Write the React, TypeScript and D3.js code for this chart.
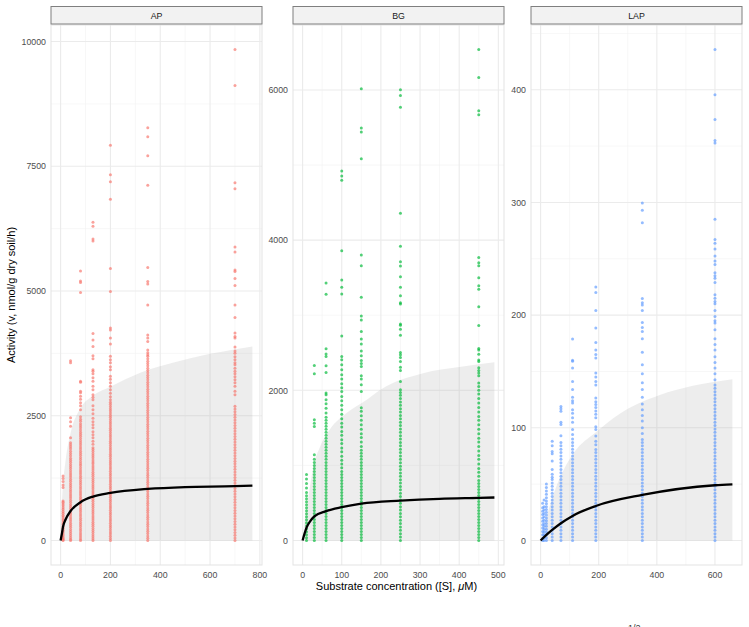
import React from 'react';
import * as d3 from 'd3';

const W = 749;
const H = 627;

// ---------- data ----------
const panelNames = ['AP', 'BG', 'LAP'];
const panelColors = ['#F8766D', '#00BA38', '#619CFF'];

const apConc = [10, 40, 80, 130, 200, 350, 700];
const apValues = [
  [0,12,35,60,95,130,170,205,245,280,320,355,395,430,470,505,545,580,620,655,695,730,765,790,1060,1110,1180,1240,1290],
  [0,25,60,100,140,180,220,265,305,345,390,430,470,515,555,600,640,680,720,765,805,850,890,930,975,1015,1060,1100,1140,1185,1225,1270,1310,1350,1395,1440,1480,1520,1570,1610,1650,1700,1745,1790,1840,1880,1920,1960,2060,2290,2380,2460,3560,3600],
  [0,30,70,110,150,195,235,280,320,360,405,445,490,530,575,615,655,700,740,780,825,865,910,950,990,1035,1075,1120,1160,1200,1245,1285,1330,1370,1410,1455,1500,1540,1580,1625,1665,1710,1750,1790,1835,1875,1920,1960,2000,2045,2090,2130,2170,2215,2260,2300,2340,2390,2430,2480,2620,2700,2760,2830,2890,2960,2990,3170,3190,4970,5170,5200,5400],
  [0,35,75,115,160,200,240,285,325,365,410,450,490,535,575,615,660,700,740,785,825,865,910,950,990,1035,1075,1115,1160,1200,1240,1285,1325,1365,1410,1450,1490,1535,1575,1615,1660,1700,1740,1785,1825,1860,1930,1990,2060,2120,2180,2260,2320,2380,2450,2540,2620,2700,2820,2870,2920,3020,3090,3190,3260,3340,3390,3420,3640,3700,3890,4020,4150,6000,6040,6300,6380],
  [0,40,85,130,170,215,260,300,345,390,430,475,520,560,605,650,690,735,780,820,865,910,950,995,1040,1080,1125,1170,1210,1255,1300,1340,1385,1430,1470,1515,1560,1600,1645,1690,1730,1775,1820,1860,1905,1950,1990,2035,2080,2120,2165,2210,2250,2295,2340,2380,2425,2470,2510,2555,2600,2640,2685,2730,2770,2820,2880,2950,3020,3090,3160,3230,3290,3420,3480,3560,3620,3690,3940,4060,4220,4260,4990,5450,6840,7190,7330,7920],
  [0,45,90,140,185,230,280,325,370,420,465,510,560,605,650,700,745,790,840,885,930,980,1025,1070,1120,1165,1210,1260,1305,1350,1400,1445,1490,1540,1585,1630,1680,1725,1770,1820,1865,1910,1960,2005,2050,2100,2145,2190,2240,2285,2330,2380,2425,2470,2520,2565,2610,2660,2705,2750,2800,2845,2890,2940,2985,3030,3080,3125,3170,3220,3265,3310,3360,3405,3450,3500,3545,3590,3640,3690,3720,3760,3820,3990,4060,4120,4720,5140,5190,5470,7120,7710,8090,8270],
  [0,50,105,160,215,270,325,380,435,490,545,600,655,710,765,820,875,930,985,1040,1095,1150,1205,1260,1315,1370,1425,1480,1535,1590,1645,1700,1755,1810,1865,1920,1975,2030,2085,2140,2195,2250,2305,2360,2415,2470,2525,2580,2635,2690,2920,2990,3090,3160,3220,3280,3340,3390,3450,3520,3560,3620,3680,3750,3800,3880,4060,4090,4160,4470,4720,5110,5250,5390,5420,5780,5880,7050,7170,9120,9840],
];
const apCurveS = [0, 5, 10, 20, 40, 80, 130, 200, 350, 500, 700, 770];
const apCurveV = [0, 130, 280, 420, 590, 767, 880, 953, 1033, 1070, 1087, 1100];
const apBandS = [0, 3, 8, 20, 40, 80, 130, 200, 320, 450, 600, 770];
const apBandV = [0, 500, 1000, 1600, 2150, 2650, 2900, 3080, 3360, 3560, 3740, 3890];
const apXTicks = [0, 200, 400, 600, 800];
const apYTicks = [0, 2500, 5000, 7500, 10000];

const bgConc = [10, 30, 60, 100, 150, 250, 450];
const bgValues = [
  [0,35,75,115,155,195,235,275,315,355,395,435,475,515,555,595,640,700,760,820,880],
  [0,40,80,120,160,200,240,280,320,360,400,440,480,520,560,600,640,680,720,760,800,840,880,920,960,1000,1040,1080,1143,1519,1560,1608,2220,2330],
  [0,40,80,120,160,200,240,280,320,360,400,440,480,520,560,600,640,680,720,760,800,840,880,920,960,1000,1040,1080,1120,1160,1200,1240,1280,1320,1360,1400,1440,1480,1520,1560,1600,1640,1697,1760,1820,1874,1940,1963,2237,2326,2450,2485,2552,3279,3429],
  [0,40,80,120,160,200,240,280,320,360,400,440,480,520,560,600,640,680,720,760,800,840,880,920,970,1020,1070,1120,1180,1230,1290,1340,1400,1450,1510,1560,1620,1680,1740,1800,1860,1918,1985,2033,2086,2149,2206,2273,2339,2406,2450,2725,3283,3372,3469,3858,4798,4855,4920],
  [0,40,80,120,160,200,240,280,320,360,400,440,480,520,560,600,640,680,720,760,800,840,880,920,960,1000,1040,1080,1120,1160,1200,1253,1310,1370,1420,1480,1540,1600,1660,1720,1768,1984,2073,2149,2193,2316,2356,2396,2459,2525,2618,2685,2782,2937,2990,3239,3659,3801,5086,5440,5493,6016],
  [0,45,90,135,180,225,270,315,360,405,450,495,540,585,630,675,720,765,810,855,900,945,990,1035,1080,1125,1170,1215,1260,1305,1350,1395,1440,1485,1530,1575,1620,1665,1710,1755,1800,1845,1890,1935,1970,2007,2117,2264,2308,2383,2436,2472,2502,2734,2813,2866,2884,3150,3167,3260,3372,3513,3655,3712,3920,4360,5772,5927,6003],
  [0,40,80,120,160,200,240,280,320,360,400,440,480,520,560,600,640,680,720,760,800,855,910,960,1020,1080,1130,1190,1250,1310,1360,1420,1480,1540,1600,1650,1710,1770,1830,1890,1950,2000,2050,2096,2193,2230,2264,2299,2383,2405,2481,2538,2556,2862,3114,3345,3393,3499,3659,3700,3770,5671,5724,6167,6539],
];
const bgCurveS = [0, 5, 10, 20, 30, 60, 100, 150, 250, 350, 450, 490];
const bgCurveV = [0, 90, 170, 260, 320, 390, 443, 490, 530, 555, 567, 572];
const bgBandS = [0, 5, 10, 15, 28, 45, 70, 113, 164, 198, 308, 400, 490];
const bgBandV = [0, 250, 430, 590, 990, 1250, 1480, 1700, 1875, 2005, 2228, 2310, 2375];
const bgXTicks = [0, 100, 200, 300, 400, 500];
const bgYTicks = [0, 2000, 4000, 6000];

const lapConc = [7, 12, 20, 40, 70, 110, 190, 350, 600];
const lapValues = [
  [0,2,5,8,11,14,17,20,23,26,29,33],
  [0,2.5,5,7.5,10,12.5,15,18,21,24,27,30,36],
  [0,2.5,5,7.5,10,12.5,15,17.5,20,22.5,25,27.5,30,32.5,35,38,41,44,47,50],
  [0,3,6,9,12,15,18,21,24,27,30,33,36,39,42,45,48,51,54,56,58.7,63,70.5,77,79,84,88],
  [0,3,6,9,12,15,18,21,24,27,30,33,36,39,42,45,48,51,54,57,60,63,66,69,72,75,78,81,84,87,93,103,105,114.7,117,119],
  [0,3,6,9,12,15,18,21,24,27,30,33,36,39,42,45,48,51,54,57,60,63,66,69,72,75,78,81,84,87,90,94,98.5,105,109,113,116,122,124,127,134,141,153,159,160,178.8],
  [0,3,6,9,12,15,18,21,24,27,30,33,36,39,42,45,48,51,54,57,60,63,66,69,72,75,78,80.8,85,88,92.6,98.5,101,109,112,115,118,120.6,123,126.5,138,141,145,148.7,162,165,169,175.8,188.5,204,220,225],
  [0,3,6,9,12,15,18,21,24,27,30,33,36,39,42,45,48,51,54,57,60,63,66,69,72,75,78,81,84,87,89.6,95,100,106,111,116,121,127,134,140,148,156,167,179,185.5,189,193.5,204,209,211,214.7,282,293,299.6],
  [0,3,6,9,12,15,18,21,24,27,30,33,36,39,42,45,48,51,54,57,60,63,66,69,72,75,78,81,84,87,90,93,96,99,102,105,108,111,114,117,120,123,126,129,132,135,138,142.7,148,153,158,163,169,174,179,187,192.9,195,198.8,204,210,212,215,218,228.9,232.7,235,237.7,245,248,252.5,258.7,263.7,267,285,352.7,355,373.7,395.6,435.7],
];
const lapCurveS = [0, 20, 40, 70, 110, 190, 350, 600, 660];
const lapCurveV = [0, 5, 9.4, 15.3, 21.8, 30.6, 40.4, 49, 49.8];
const lapBandS = [0, 10, 25, 50, 80, 115, 190, 270, 410, 520, 660];
const lapBandV = [0, 11, 25, 45, 63, 78, 96, 112, 129, 137, 143];
const lapXTicks = [0, 200, 400, 600];
const lapYTicks = [0, 100, 200, 300, 400];

// ---------- layout ----------
const panelLefts = [51, 293, 531];
const panelW = 211;
const panelTop = 25;
const panelBottom = 565;
const FONT = 'Liberation Sans, Arial, Helvetica, sans-serif';

const panels = [
  { conc: apConc, values: apValues, cs: apCurveS, cv: apCurveV, bs: apBandS, bv: apBandV, xt: apXTicks, yt: apYTicks },
  { conc: bgConc, values: bgValues, cs: bgCurveS, cv: bgCurveV, bs: bgBandS, bv: bgBandV, xt: bgXTicks, yt: bgYTicks },
  { conc: lapConc, values: lapValues, cs: lapCurveS, cv: lapCurveV, bs: lapBandS, bv: lapBandV, xt: lapXTicks, yt: lapYTicks },
];

function expand(ext: [number, number]): [number, number] {
  const d = ext[1] - ext[0];
  return [ext[0] - 0.05 * d, ext[1] + 0.05 * d];
}

function mids(t: number[]) {
  const out: number[] = [];
  for (let i = 0; i < t.length - 1; i++) out.push((t[i] + t[i + 1]) / 2);
  return out;
}

function Panel({ idx }: { idx: number }) {
  const p = panels[idx];
  const left = panelLefts[idx];
  const right = left + panelW;
  const allY = p.values.flat().concat(p.bv, p.cv);
  const allX = p.conc.concat(p.cs, p.bs);
  const x = d3.scaleLinear().domain(expand(d3.extent(allX) as [number, number])).range([left, right]);
  const y = d3.scaleLinear().domain(expand(d3.extent(allY) as [number, number])).range([panelBottom, panelTop]);
  const [x0, x1] = x.domain();
  const [y0, y1] = y.domain();
  const xMinor = mids(p.xt).concat([p.xt[p.xt.length - 1] + (p.xt[1] - p.xt[0]) / 2]).filter((v) => v > x0 && v < x1);
  const yMinor = mids(p.yt).concat([p.yt[p.yt.length - 1] + (p.yt[1] - p.yt[0]) / 2]).filter((v) => v > y0 && v < y1);

  const band = p.bs.map((s, i) => [s, p.bv[i]] as [number, number]);
  const curve = p.cs.map((s, i) => [s, p.cv[i]] as [number, number]);
  const area = d3.area<[number, number]>().x((d) => x(d[0])).y0(() => y(0)).y1((d) => y(d[1])).curve(d3.curveMonotoneX);
  const line = d3.line<[number, number]>().x((d) => x(d[0])).y((d) => y(d[1])).curve(d3.curveMonotoneX);

  const pts: { cx: number; cy: number }[] = [];
  p.conc.forEach((c, i) => p.values[i].forEach((v) => pts.push({ cx: x(c), cy: y(v) })));

  return (
    <g>
      <rect x={left} y={panelTop} width={panelW} height={panelBottom - panelTop} fill="#FFFFFF" />
      {xMinor.map((v) => (
        <line key={'xm' + v} x1={x(v)} x2={x(v)} y1={panelTop} y2={panelBottom} stroke="#F2F2F2" strokeWidth={0.6} />
      ))}
      {yMinor.map((v) => (
        <line key={'ym' + v} x1={left} x2={right} y1={y(v)} y2={y(v)} stroke="#F2F2F2" strokeWidth={0.6} />
      ))}
      {p.xt.map((v) => (
        <line key={'xg' + v} x1={x(v)} x2={x(v)} y1={panelTop} y2={panelBottom} stroke="#EBEBEB" strokeWidth={1.1} />
      ))}
      {p.yt.map((v) => (
        <line key={'yg' + v} x1={left} x2={right} y1={y(v)} y2={y(v)} stroke="#EBEBEB" strokeWidth={1.1} />
      ))}
      <path d={area(band) || ''} fill="#999999" fillOpacity={0.18} />
      {pts.map((d, i) => (
        <circle key={i} cx={d.cx} cy={d.cy} r={1.5} fill={panelColors[idx]} fillOpacity={0.68} />
      ))}
      <path d={line(curve) || ''} fill="none" stroke="#000000" strokeWidth={2.3} />
      <rect x={left} y={panelTop} width={panelW} height={panelBottom - panelTop} fill="none" stroke="#E3E3E3" strokeWidth={1} />
      {/* strip */}
      <rect x={left} y={6.5} width={panelW} height={17.5} fill="#F2F2F2" stroke="#7F7F7F" strokeWidth={1} />
      <text x={(left + right) / 2} y={18.5} textAnchor="middle" fontSize={8.8} fill="#1A1A1A" fontFamily={FONT}>
        {panelNames[idx]}
      </text>
      {p.yt.map((v) => (
        <text key={'yl' + v} x={left - 5} y={y(v) + 3.2} textAnchor="end" fontSize={8.8} fill="#4D4D4D" fontFamily={FONT}>
          {v}
        </text>
      ))}
      {p.xt.map((v) => (
        <text key={'xl' + v} x={x(v)} y={578} textAnchor="middle" fontSize={8.8} fill="#4D4D4D" fontFamily={FONT}>
          {v}
        </text>
      ))}
    </g>
  );
}

export default function App() {
  return (
    <svg
      width={W}
      height={H}
      viewBox={`0 0 ${W} ${H}`}
      style={{ position: 'absolute', left: 0, top: 0, background: '#FFFFFF' }}
    >
      <rect x={0} y={0} width={W} height={H} fill="#FFFFFF" />
      {panels.map((_, i) => (
        <Panel key={i} idx={i} />
      ))}
      <text x={396.5} y={590} textAnchor="middle" fontSize={11} fill="#000000" fontFamily={FONT}>
        Substrate concentration ([S], <tspan fontStyle="italic">μ</tspan>M)
      </text>
      <text transform="translate(15,295) rotate(-90)" textAnchor="middle" fontSize={11} fill="#000000" fontFamily={FONT}>
        Activity (v, nmol/g dry soil/h)
      </text>
      <text x={628} y={631} fontSize={9} fill="#333333" fontFamily={FONT}>
        1/2
      </text>
    </svg>
  );
}
